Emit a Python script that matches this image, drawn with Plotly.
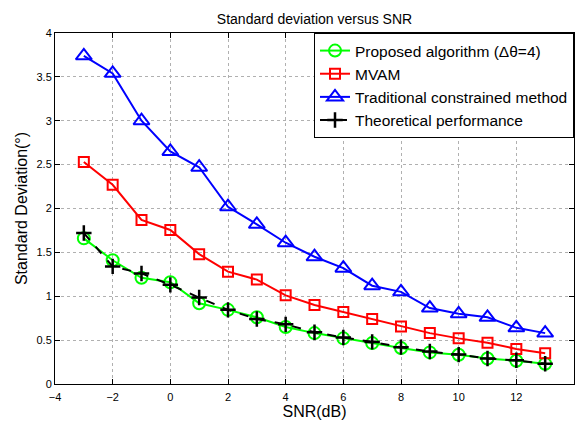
import plotly.graph_objects as go

snr = [-3, -2, -1, 0, 1, 2, 3, 4, 5, 6, 7, 8, 9, 10, 11, 12, 13]
proposed = [1.66, 1.41, 1.21, 1.16, 0.92, 0.845, 0.76, 0.65, 0.58, 0.52, 0.466, 0.41, 0.36, 0.333, 0.29, 0.265, 0.23]
mvam = [2.53, 2.27, 1.87, 1.755, 1.48, 1.28, 1.19, 1.01, 0.90, 0.82, 0.74, 0.655, 0.58, 0.52, 0.47, 0.40, 0.35]
traditional = [3.74, 3.54, 3.00, 2.65, 2.47, 2.02, 1.82, 1.61, 1.45, 1.32, 1.12, 1.05, 0.865, 0.80, 0.76, 0.64, 0.58]
theoretical = [1.72, 1.34, 1.26, 1.13, 0.985, 0.845, 0.74, 0.68, 0.59, 0.53, 0.48, 0.42, 0.37, 0.335, 0.29, 0.27, 0.23]

names = ["Proposed algorithm (\u0394\u03b8=4)", "MVAM", "Traditional constrained method", "Theoretical performance"]

fig = go.Figure()
fig.add_trace(go.Scatter(x=snr, y=proposed, name=names[0], mode="lines+markers",
                         line=dict(color="#00ff00", width=2),
                         marker=dict(symbol="circle-open", size=12, color="#00ff00", line=dict(width=2))))
fig.add_trace(go.Scatter(x=snr, y=mvam, name=names[1], mode="lines+markers",
                         line=dict(color="#ff0000", width=2),
                         marker=dict(symbol="square-open", size=10, color="#ff0000", line=dict(width=2))))
fig.add_trace(go.Scatter(x=snr, y=traditional, name=names[2], mode="lines+markers",
                         line=dict(color="#0000ff", width=2),
                         marker=dict(symbol="triangle-up-open", size=14, color="#0000ff", line=dict(width=2))))
fig.add_trace(go.Scatter(x=snr, y=theoretical, name=names[3], mode="lines+markers",
                         line=dict(color="#000000", width=2, dash="dash"),
                         marker=dict(symbol="cross-thin-open", size=11, color="#000000", line=dict(width=2.5, color="#000000"))))

axis_common = dict(showline=True, linecolor="black", linewidth=1, mirror="ticks",
                   ticks="inside", ticklen=5, tickcolor="black",
                   showgrid=True, gridcolor="#b0b0b0", griddash="dot", gridwidth=1,
                   zeroline=False, tickfont=dict(family="Arial", size=11, color="black"))

fig.update_xaxes(range=[-4, 14], dtick=2, tick0=-4, ticklabelstandoff=3,
                 title=dict(text="SNR(dB)", font=dict(family="Arial", size=16, color="black"), standoff=0),
                 **axis_common)
fig.update_yaxes(range=[0, 4], dtick=0.5,
                 title=dict(text="Standard Deviation(\u00b0)", font=dict(family="Arial", size=16, color="black"), standoff=4),
                 **axis_common)

fig.update_layout(
    width=575, height=421,
    margin=dict(l=55, r=1, t=33, b=37),
    paper_bgcolor="white", plot_bgcolor="white",
    title=dict(text="Standard deviation versus SNR", xref="paper", x=0.5, xanchor="center",
               yref="container", y=0.955, yanchor="middle",
               font=dict(family="Arial", size=14, color="black")),
    legend=dict(x=1, xanchor="right", y=1, yanchor="top", bordercolor="black", borderwidth=1,
                bgcolor="white", font=dict(family="Arial", size=15.5, color="black"),
                tracegroupgap=0, itemwidth=30),
    showlegend=True,
)

fig.write_html("out.html")
